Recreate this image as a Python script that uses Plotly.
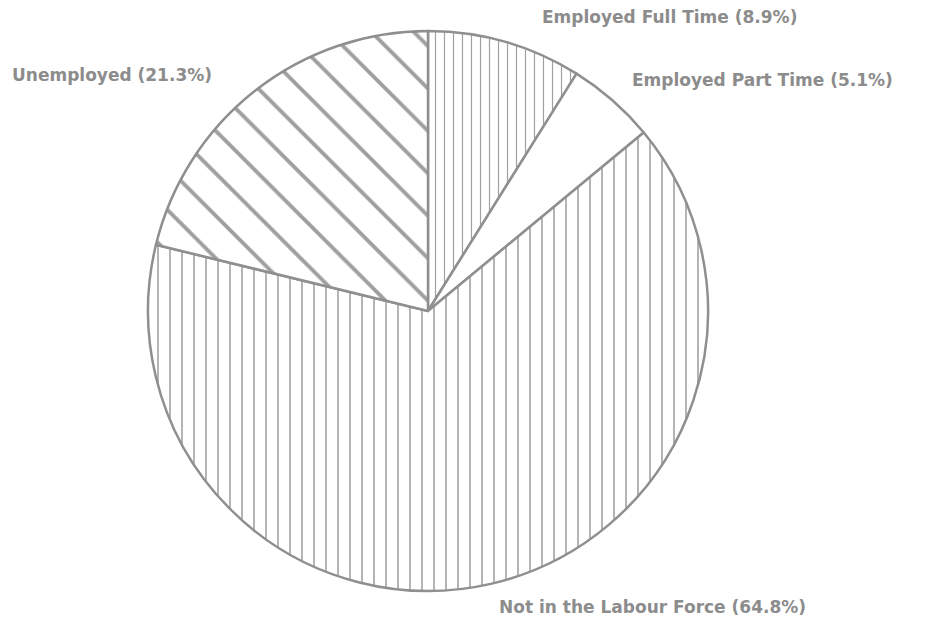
import plotly.graph_objects as go

categories = ["Employed Full Time", "Employed Part Time", "Not in the Labour Force", "Unemployed"]
values = [8.9, 5.1, 64.8, 21.2]
pct_labels = ["8.9%", "5.1%", "64.8%", "21.3%"]

patterns = ["|", "", "|", "\\"]
pattern_sizes = [9, 10, 12, 30]

W, H = 937, 628
OFF = 8  # page body margin
cx, cy, r = 428 - OFF, 311 - OFF, 280

fig = go.Figure(go.Pie(
    labels=categories,
    values=values,
    sort=False,
    direction="clockwise",
    rotation=0,
    textinfo="none",
    hoverinfo="label+percent",
    showlegend=False,
    domain=dict(x=[(cx - r) / W, (cx + r) / W], y=[1 - (cy + r) / H, 1 - (cy - r) / H]),
    marker=dict(
        colors=["white"] * 4,
        line=dict(color="#8f8f8f", width=2.5),
        pattern=dict(shape=patterns, fgcolor="#404040", bgcolor="white",
                     size=pattern_sizes, solidity=0.13, fillmode="overlay"),
    ),
))

label_pos = [(540, 17), (630, 80), (497, 607), (10, 75)]
anns = []
for (x, y), c, p in zip(label_pos, categories, pct_labels):
    anns.append(dict(x=(x - OFF) / W, y=1 - (y - OFF) / H, xref="paper", yref="paper",
                     xanchor="left", yanchor="middle", showarrow=False,
                     text=f"<b>{c} ({p})</b>",
                     font=dict(family="DejaVu Sans", size=17, color="#8c8c8c")))
fig.update_layout(width=W, height=H, margin=dict(l=0, r=0, t=0, b=0),
                  paper_bgcolor="white", plot_bgcolor="white", annotations=anns)
fig.write_html("out.html")
